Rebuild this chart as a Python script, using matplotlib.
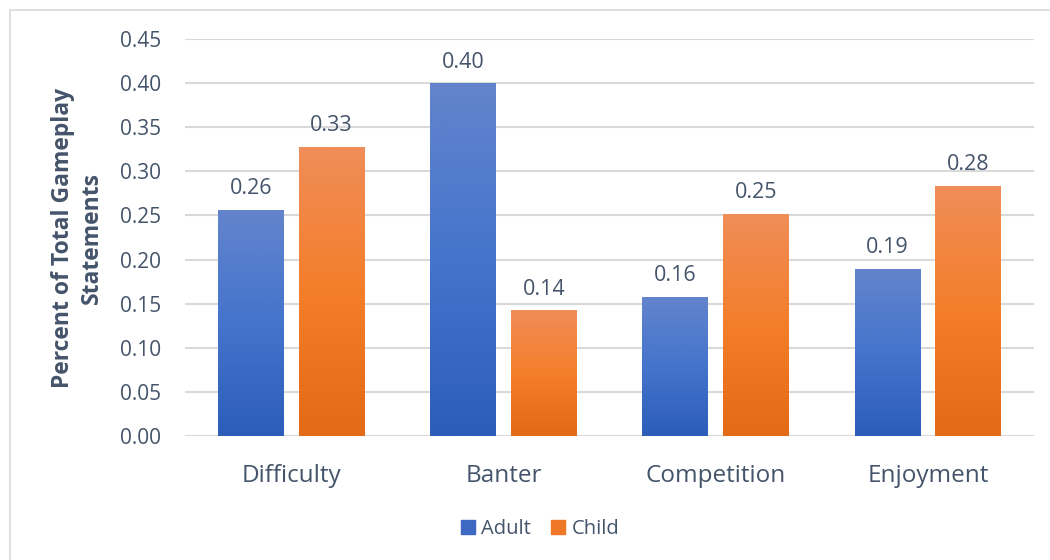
import matplotlib
matplotlib.use("Agg")
import matplotlib.pyplot as plt
import numpy as np
from matplotlib.colors import LinearSegmentedColormap
from matplotlib.patches import Rectangle

categories = ["Difficulty", "Banter", "Competition", "Enjoyment"]
adult = [0.256, 0.399, 0.157, 0.189]
child = [0.327, 0.142, 0.251, 0.283]
series_names = ["Adult", "Child"]
yticks = [0.00, 0.05, 0.10, 0.15, 0.20, 0.25, 0.30, 0.35, 0.40, 0.45]

TEXT = "#44546A"
GRID = "#D9D9D9"
FONT = ["Open Sans", "DejaVu Sans"]
plt.rcParams["font.family"] = FONT

blue_cmap = LinearSegmentedColormap.from_list("blue", ["#2C5DB8", "#4474CC", "#6384CC"])
orange_cmap = LinearSegmentedColormap.from_list("orange", ["#E36A17", "#F47E2A", "#F08D58"])

fig = plt.figure(figsize=(10.5, 5.6), dpi=100)
fig.patches.append(Rectangle((10 / 1050, -0.1), 1.2, (1 - 10 / 560) + 0.1,
                             transform=fig.transFigure, fill=False,
                             edgecolor="#D9D9D9", linewidth=1.2))
ax = fig.add_axes([185 / 1050, 1 - 436 / 560, (1034 - 185) / 1050, (436 - 39) / 560])

width = 0.31
offset = 0.19
x = np.arange(len(categories))
grad = np.linspace(0, 1, 256).reshape(-1, 1)

for vals, sign, cmap in [(adult, -1, blue_cmap), (child, 1, orange_cmap)]:
    for xi, v in zip(x, vals):
        cx = xi + sign * offset
        ax.imshow(grad, cmap=cmap, origin="lower", aspect="auto",
                  extent=[cx - width / 2, cx + width / 2, 0, v], zorder=3,
                  interpolation="bilinear")
        ax.annotate(f"{v:.2f}", (cx, v), xytext=(0, 8), textcoords="offset points",
                    ha="center", va="bottom", fontsize=15.5, color=TEXT)

ax.set_xlim(-0.5, len(categories) - 0.5)
ax.set_ylim(0, 0.45)
ax.set_yticks(yticks)
ax.set_yticklabels([f"{t:.2f}" for t in yticks])
ax.set_xticks(x)
ax.set_xticklabels(categories)
ax.tick_params(axis="y", length=0, pad=17, labelsize=15, labelcolor=TEXT)
ax.tick_params(axis="x", length=0, pad=20, labelsize=17.5, labelcolor=TEXT)
ax.grid(axis="y", color=GRID, linewidth=1.5, zorder=0)
ax.set_axisbelow(True)
for s in ax.spines.values():
    s.set_visible(False)

ax.set_ylabel("Percent of Total Gameplay\nStatements", fontsize=16.5,
              fontweight="bold", color=TEXT, labelpad=12, linespacing=1.25)

handles = [Rectangle((0, 0), 1, 1, color="#3D69C2"), Rectangle((0, 0), 1, 1, color="#EF7728")]
fig.legend(handles, series_names, loc="center", bbox_to_anchor=(540 / 1050, 1 - 529 / 560),
           ncol=2, frameon=False, fontsize=14.5, handlelength=0.7, handleheight=0.7,
           handletextpad=0.3, columnspacing=1.0, labelcolor=TEXT)

fig.savefig("out.png", dpi=100)
